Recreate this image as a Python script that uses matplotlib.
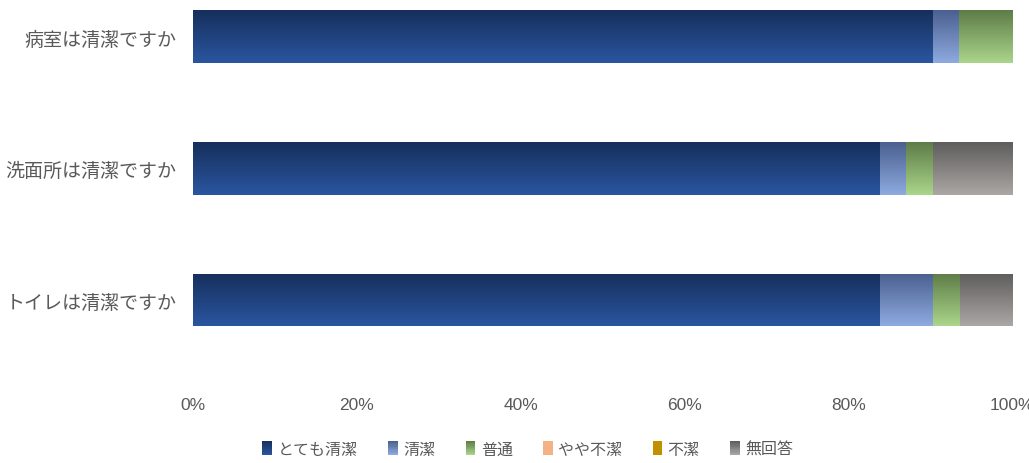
import matplotlib
matplotlib.use('Agg')
import matplotlib.pyplot as plt
import numpy as np
from matplotlib.patches import Patch, Rectangle
from matplotlib.legend_handler import HandlerBase
from matplotlib.colors import to_rgb

categories = ['病室は清潔ですか', '洗面所は清潔ですか', 'トイレは清潔ですか']
series_names = ['とても清潔', '清潔', '普通', 'やや不潔', '不潔', '無回答']
v_very_clean = [90.3, 83.9, 83.9]
v_clean = [3.2, 3.2, 6.5]
v_normal = [6.5, 3.2, 3.2]
v_bit_dirty = [0.0, 0.0, 0.0]
v_dirty = [0.0, 0.0, 0.0]
v_no_answer = [0.0, 9.7, 6.4]
series_values = [v_very_clean, v_clean, v_normal, v_bit_dirty, v_dirty, v_no_answer]
x_ticks = [0, 20, 40, 60, 80, 100]
x_tick_labels = ['0%', '20%', '40%', '60%', '80%', '100%']

# (top colour, bottom colour) for vertical gradients
grad = [
    ('#162f5c', '#2a56a0'),
    ('#4a6090', '#8eaadf'),
    ('#5e7c48', '#aad58a'),
    ('#f4b183', '#f4b183'),
    ('#bf9000', '#bf9000'),
    ('#5f5d5d', '#aaa7a4'),
]

cjk = ['Noto Sans CJK JP', 'DejaVu Sans']
latin = ['Liberation Sans Narrow', 'Liberation Sans', 'DejaVu Sans']
text_color = '#595959'

fig = plt.figure(figsize=(10.29, 4.64), dpi=100)
ax = fig.add_axes([193/1029, 1-385/464, (1012-193)/1029, 385/464])

y = np.arange(len(categories))
left = np.zeros(len(categories))
bar_h = 0.40
XL = (0, 100)
YL = (2.638, -0.285)

def mix(top, bot, t):
    a = np.array(to_rgb(top)); b = np.array(to_rgb(bot))
    return a * (1 - t) + b * t

def gradient_img(top, bot, n=64):
    t = np.linspace(0, 1, n)[:, None]
    a = np.array(to_rgb(top)); b = np.array(to_rgb(bot))
    return (a[None, :] * (1 - t) + b[None, :] * t)[:, None, :]

for name, vals, (ct, cb) in zip(series_names, series_values, grad):
    bars = ax.barh(y, vals, left=left, height=bar_h, color='none',
                   edgecolor='none', label=name)
    img = gradient_img(ct, cb)
    for b in bars:
        w = b.get_width()
        if w <= 0:
            continue
        x0 = b.get_x(); y0 = b.get_y(); h = b.get_height()
        im = ax.imshow(img, extent=(x0, x0 + w, y0 + h, y0), origin='upper',
                       aspect='auto', interpolation='bilinear', zorder=2)
        im.set_clip_path(b)
    left = left + np.array(vals)

ax.set_xlim(*XL)
ax.set_ylim(*YL)
ax.set_yticks(y)
ax.set_yticklabels(categories, fontfamily=cjk, fontsize=13.7, color=text_color)
ax.set_xticks(x_ticks)
ax.set_xticklabels(x_tick_labels, fontfamily=latin, fontsize=12.5, color=text_color)
ax.tick_params(axis='both', length=0)
ax.tick_params(axis='y', pad=12)
ax.tick_params(axis='x', pad=9)
for s in ax.spines.values():
    s.set_visible(False)


class GradHandler(HandlerBase):
    def __init__(self, top, bot, n=12):
        super().__init__()
        self.top, self.bot, self.n = top, bot, n

    def create_artists(self, legend, orig_handle, xdescent, ydescent,
                       width, height, fontsize, trans):
        arts = []
        hs = height / self.n
        for i in range(self.n):
            t = i / (self.n - 1)
            yy = -ydescent + height - (i + 1) * hs
            r = Rectangle((-xdescent, yy), width, hs * 1.05,
                          facecolor=mix(self.top, self.bot, t),
                          edgecolor='none', transform=trans)
            arts.append(r)
        return arts


handles = [Patch(facecolor=grad[i][1], edgecolor='none', label=series_names[i])
           for i in range(6)]
hmap = {handles[i]: GradHandler(grad[i][0], grad[i][1]) for i in range(6)}
leg = fig.legend(handles=handles, handler_map=hmap, loc='center',
                 bbox_to_anchor=(0.513, 0.03),
                 ncol=6, frameon=False, prop={'family': cjk, 'size': 11.5},
                 handlelength=0.6, handleheight=1.0, handletextpad=0.35,
                 columnspacing=1.9, labelcolor=text_color)

fig.savefig('out.png', dpi=100)
